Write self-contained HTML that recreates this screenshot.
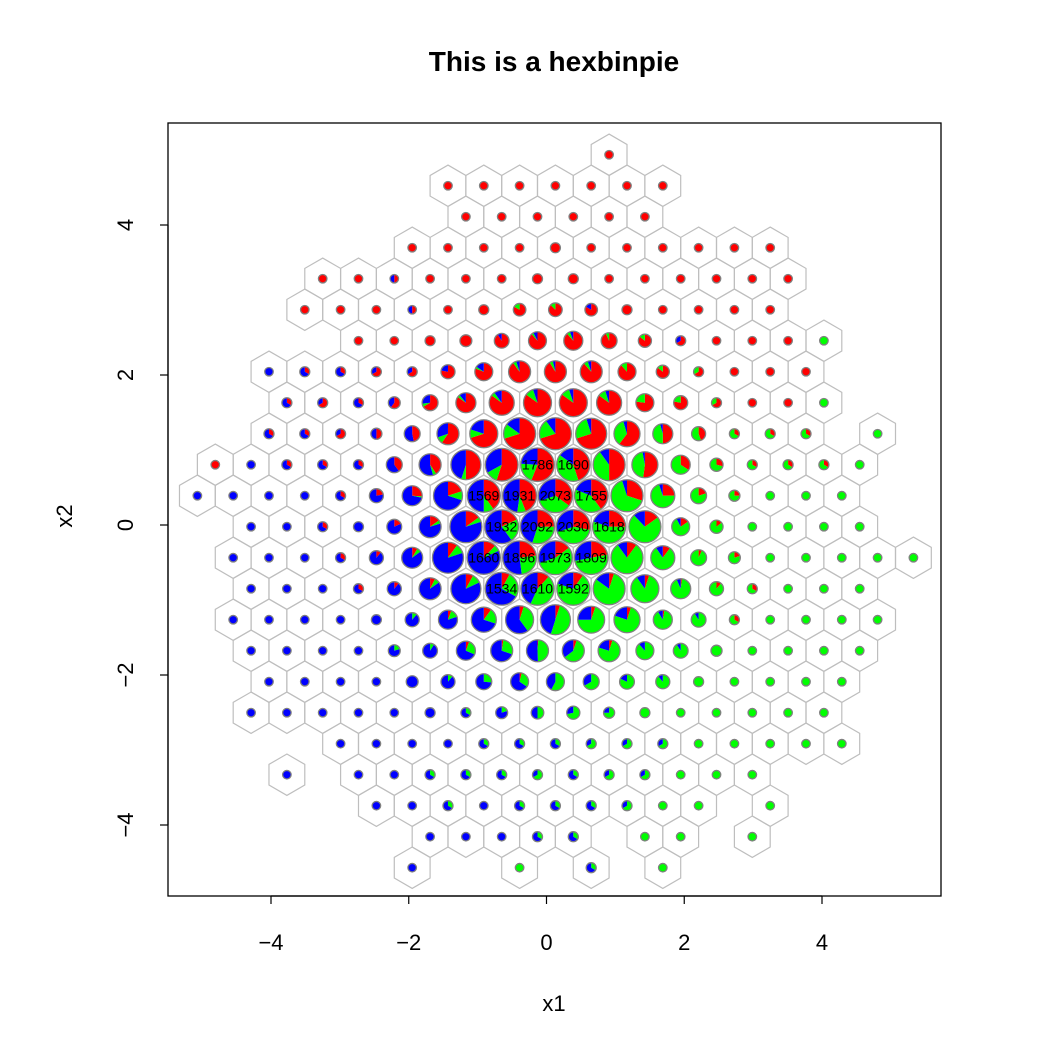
<!DOCTYPE html>
<html><head><meta charset="utf-8"><style>
html,body{margin:0;padding:0;background:#fff;}
svg text{font-family:"Liberation Sans",Arial,sans-serif;}
</style></head><body>
<svg id="chart" width="1050" height="1050" viewBox="0 0 1050 1050" xmlns="http://www.w3.org/2000/svg">
<rect x="0" y="0" width="1050" height="1050" fill="#fff"/>
<text x="554" y="71" text-anchor="middle" font-size="28" font-weight="bold">This is a hexbinpie</text>
<g id="hexes"></g>
<g id="pies"></g>
<g id="labels"></g>
<rect x="168" y="123" width="773" height="773" fill="none" stroke="#000" stroke-width="1.3"/>
<g id="xaxis"></g>
<g id="yaxis"></g>
<text x="554" y="1011" text-anchor="middle" font-size="22">x1</text>
<text x="72" y="516" text-anchor="middle" font-size="22" transform="rotate(-90 72 516)">x2</text>
</svg>
<script>
// ---- data ----
const xTicks = [-4, -2, 0, 2, 4];
const yTicks = [-4, -2, 0, 2, 4];
const rowIndex = [12,11,10,9,8,7,6,5,4,3,2,1,0,-1,-2,-3,-4,-5,-6,-7,-8,-9,-10,-11];
function range(a,b){const r=[];for(let i=a;i<=b;i++)r.push(i);return r;}
const rowCols = [
  [1], range(-3,3), range(-3,2), range(-4,6), range(-7,6), range(-7,6), range(-6,7),
  range(-8,7), range(-8,7), range(-8,7).concat([9]), range(-10,8), range(-10,8), range(-9,8),
  range(-9,10), range(-9,8), range(-9,9), range(-9,8), range(-8,8), range(-9,7), range(-6,8),
  [-8,-6,-5,-4,-3,-2,-1,0,1,2,3,4,5], [-5,-4,-3,-2,-1,0,1,2,3,4,6], [-4,-3,-2,-1,0,2,3,5], [-4,-1,1,3]
];
// counts per hex: [red, green, blue]
const rowCounts = [
  [[2,0,0]],
  [[2,0,0],[2,0,0],[2,0,0],[2,0,0],[2,0,0],[2,0,0],[2,0,0]],
  [[2,0,0],[2,0,0],[2,0,0],[2,0,0],[2,0,0],[2,0,0]],
  [[2,0,0],[2,0,0],[2,0,0],[2,0,0],[3,0,0],[2,0,0],[2,0,0],[2,0,0],[2,0,0],[2,0,0],[2,0,0]],
  [[2,0,0],[2,0,0],[1,0,1],[2,0,0],[2,0,0],[2,0,0],[3,0,0],[3,0,0],[2,0,0],[2,0,0],[2,0,0],[2,0,0],[2,0,0],[2,0,0]],
  [[2,0,0],[2,0,0],[2,0,0],[1,0,1],[2,0,0],[3,0,0],[5,1,0],[7,1,0],[5,0,1],[3,0,0],[2,0,0],[2,0,0],[2,0,0],[2,0,0]],
  [[2,0,0],[2,0,0],[3,0,0],[5,0,0],[10,0,1],[23,1,2],[31,2,2],[14,1,0],[6,1,0],[2,0,1],[2,0,0],[2,0,0],[2,0,0],[0,2,0]],
  [[0,0,2],[1,0,2],[1,0,2],[2,0,1],[2,0,1],[7,0,2],[21,1,4],[71,4,4],[72,4,3],[70,5,4],[23,3,0],[6,1,0],[2,1,0],[2,0,0],[2,0,0],[2,0,0]],
  [[1,0,2],[2,0,1],[1,0,2],[3,0,2],[10,1,4],[39,2,5],[153,9,18],[344,40,21],[344,41,20],[153,18,9],[20,6,0],[7,2,0],[2,1,0],[2,0,0],[2,0,0],[0,2,0]],
  [[1,0,2],[1,0,2],[2,0,1],[2,0,2],[7,0,8],[47,8,24],[284,40,81],[847,182,181],[847,242,121],[644,230,46],[142,83,11],[23,21,2],[4,5,0],[1,2,0],[1,2,0],[1,2,0],[0,2,0]],
  [[2,0,0],[0,0,2],[1,0,2],[1,0,2],[1,0,2],[6,0,9],[32,4,43],[350,35,315],[798,174,478],[1000,357,429],[760,676,254],[600,480,120],[123,106,7],[12,23,0],[2,5,0],[1,2,0],[1,2,0],[1,2,0],[0,2,0]],
  [[0,0,2],[0,0,2],[0,0,2],[0,0,2],[1,0,2],[2,0,7],[12,1,33],[106,53,371],[628,157,784],[850,160,921],[725,725,623],[700,720,335],[360,780,60],[34,96,7],[3,12,0],[1,3,0],[0,2,0],[0,2,0],[0,2,0]],
  [[0,0,2],[0,0,2],[1,0,2],[0,0,3],[2,0,9],[12,4,63],[180,60,960],[348,425,1159],[523,628,941],[568,853,609],[405,890,323],[180,876,144],[4,20,2],[1,6,0],[0,2,0],[0,2,0],[0,2,0],[0,2,0]],
  [[0,0,2],[0,0,2],[0,0,2],[1,0,2],[1,0,8],[5,4,51],[92,92,736],[200,100,1360],[436,474,986],[296,1085,592],[398,905,506],[120,960,120],[14,110,13],[1,14,0],[1,4,0],[0,2,0],[0,2,0],[0,2,0],[0,2,0],[0,2,0]],
  [[0,0,2],[0,0,2],[0,0,2],[1,0,2],[1,0,8],[6,6,67],[56,70,574],[123,384,1027],[193,724,693],[160,1114,318],[60,960,180],[20,345,40],[1,42,3],[1,8,0],[1,2,0],[0,2,0],[0,2,0],[0,2,0]],
  [[0,0,2],[0,0,2],[0,0,2],[0,0,2],[0,0,3],[0,1,8],[2,5,28],[18,36,126],[20,142,243],[35,350,315],[15,210,75],[12,177,47],[1,31,3],[0,10,1],[1,2,0],[0,2,0],[0,2,0],[0,2,0],[0,2,0]],
  [[0,0,2],[0,0,2],[0,0,2],[0,0,2],[0,1,4],[0,1,10],[2,9,24],[2,22,55],[1,38,40],[4,47,28],[4,59,16],[0,23,3],[0,10,1],[0,4,0],[0,2,0],[0,2,0],[0,2,0],[0,2,0]],
  [[0,0,2],[0,0,2],[0,0,2],[0,0,2],[0,0,5],[0,1,8],[0,4,11],[1,8,17],[0,15,11],[0,10,5],[0,9,2],[0,8,1],[0,3,0],[0,2,0],[0,2,0],[0,2,0],[0,2,0]],
  [[0,0,2],[0,0,2],[0,0,2],[0,0,2],[0,0,2],[0,0,3],[0,1,2],[0,1,4],[0,3,3],[0,5,2],[0,3,1],[0,3,0],[0,2,0],[0,2,0],[0,2,0],[0,2,0],[0,2,0]],
  [[0,0,2],[0,0,2],[0,0,2],[0,0,2],[0,1,2],[0,1,2],[0,1,2],[0,2,1],[0,2,1],[0,2,1],[0,2,0],[0,2,0],[0,2,0],[0,2,0],[0,2,0]],
  [[0,0,2],[0,0,2],[0,0,2],[0,1,2],[0,1,2],[0,1,2],[0,2,1],[0,1,2],[0,2,1],[0,2,1],[0,2,0],[0,2,0],[0,2,0]],
  [[0,0,2],[0,0,2],[0,1,2],[0,0,2],[0,1,2],[0,1,2],[0,1,2],[0,2,1],[0,2,0],[0,2,0],[0,2,0]],
  [[0,0,2],[0,0,2],[0,0,2],[0,1,2],[0,1,2],[0,2,0],[0,2,0],[0,2,0]],
  [[0,0,2],[0,2,0],[0,1,2],[0,2,0]]
];
const sliceColors = ['#ff0000','#00ff00','#0000ff'];
const sliceNames = ['red','green','blue'];
const labelThreshold = 1500;

// ---- scales ----
function xScale(v){ return 546.5 + v*68.875; }
function yScale(v){ return 525 - v*75; }
const hexX0 = 0.389, hexDX = 0.5198, hexY0 = -0.023, hexDY = 0.4133;
const NS = 'http://www.w3.org/2000/svg';
const gHex = document.getElementById('hexes');
const gPie = document.getElementById('pies');
const gLab = document.getElementById('labels');
let maxN = 1;
rowCounts.forEach(r => r.forEach(c => { const n = c[0]+c[1]+c[2]; if (n > maxN) maxN = n; }));
function radius(n){ return 3 + 14*Math.log(n)/Math.log(maxN); }
const hw = 17.9, hv = 20.67;

rowIndex.forEach((j, ri) => {
  const odd = Math.abs(j) % 2 === 1;
  rowCols[ri].forEach((k, ci) => {
    const cnt = rowCounts[ri][ci];
    if (!cnt) return;
    const cx = xScale(hexX0 + hexDX*(k - (odd ? 0.5 : 0)));
    const cy = yScale(hexY0 + hexDY*j);
    const hex = document.createElementNS(NS, 'polygon');
    hex.setAttribute('points', [[0,-hv],[hw,-hv/2],[hw,hv/2],[0,hv],[-hw,hv/2],[-hw,-hv/2]].map(p => (cx+p[0]).toFixed(2)+','+(cy+p[1]).toFixed(2)).join(' '));
    hex.setAttribute('fill', 'none');
    hex.setAttribute('stroke', '#bebebe');
    hex.setAttribute('stroke-width', '1.2');
    
    
    gHex.appendChild(hex);

    const n = cnt[0]+cnt[1]+cnt[2];
    const r = radius(n);
    const pg = document.createElementNS(NS, 'g');
    
    
    let a = 0;
    for (let s = 0; s < 3; s++) {
      if (cnt[s] <= 0) continue;
      const frac = cnt[s]/n;
      let el;
      if (frac >= 0.9999) {
        el = document.createElementNS(NS, 'circle');
        el.setAttribute('cx', cx); el.setAttribute('cy', cy); el.setAttribute('r', r);
      } else {
        const a2 = a + frac*2*Math.PI;
        const x1 = cx + r*Math.sin(a), y1 = cy - r*Math.cos(a);
        const x2 = cx + r*Math.sin(a2), y2 = cy - r*Math.cos(a2);
        el = document.createElementNS(NS, 'path');
        el.setAttribute('d', 'M'+cx+','+cy+' L'+x1.toFixed(2)+','+y1.toFixed(2)+' A'+r+','+r+' 0 '+(frac>0.5?1:0)+' 1 '+x2.toFixed(2)+','+y2.toFixed(2)+' Z');
        a = a2;
      }
      el.setAttribute('fill', sliceColors[s]);
      
      
      pg.appendChild(el);
    }
    const ring = document.createElementNS(NS, 'circle');
    ring.setAttribute('cx', cx); ring.setAttribute('cy', cy); ring.setAttribute('r', r);
    ring.setAttribute('fill', 'none'); ring.setAttribute('stroke', '#808080'); ring.setAttribute('stroke-width', '1.3');
    
    
    pg.appendChild(ring);
    gPie.appendChild(pg);

    if (n >= labelThreshold) {
      const t = document.createElementNS(NS, 'text');
      t.setAttribute('x', cx); t.setAttribute('y', cy + 5);
      t.setAttribute('text-anchor', 'middle'); t.setAttribute('font-size', '14');
      t.textContent = String(n);
      
      
      gLab.appendChild(t);
    }
  });
});

const gx = document.getElementById('xaxis');
xTicks.forEach(v => {
  const x = xScale(v);
  const l = document.createElementNS(NS, 'line');
  l.setAttribute('x1', x); l.setAttribute('x2', x); l.setAttribute('y1', 896); l.setAttribute('y2', 904);
  l.setAttribute('stroke', '#000'); l.setAttribute('stroke-width', '1.2');
  
  
  gx.appendChild(l);
  const t = document.createElementNS(NS, 'text');
  t.setAttribute('x', x); t.setAttribute('y', 950); t.setAttribute('text-anchor', 'middle'); t.setAttribute('font-size', '22');
  t.textContent = (v < 0 ? '\u2212' + (-v) : String(v));
  
  
  gx.appendChild(t);
});
const gy = document.getElementById('yaxis');
yTicks.forEach(v => {
  const y = yScale(v);
  const l = document.createElementNS(NS, 'line');
  l.setAttribute('x1', 160); l.setAttribute('x2', 168); l.setAttribute('y1', y); l.setAttribute('y2', y);
  l.setAttribute('stroke', '#000'); l.setAttribute('stroke-width', '1.2');
  
  
  gy.appendChild(l);
  const t = document.createElementNS(NS, 'text');
  t.setAttribute('x', 133); t.setAttribute('y', y); t.setAttribute('text-anchor', 'middle'); t.setAttribute('font-size', '22');
  t.setAttribute('transform', 'rotate(-90 133 ' + y + ')');
  t.textContent = (v < 0 ? '\u2212' + (-v) : String(v));
  
  
  gy.appendChild(t);
});
const ax = document.createElementNS(NS, 'line');
ax.setAttribute('x1', xScale(-4)); ax.setAttribute('x2', xScale(4)); ax.setAttribute('y1', 896); ax.setAttribute('y2', 896);
ax.setAttribute('stroke', '#000'); ax.setAttribute('stroke-width', '1.2');


gx.appendChild(ax);
const ay = document.createElementNS(NS, 'line');
ay.setAttribute('x1', 168); ay.setAttribute('x2', 168); ay.setAttribute('y1', yScale(-4)); ay.setAttribute('y2', yScale(4));
ay.setAttribute('stroke', '#000'); ay.setAttribute('stroke-width', '1.2');


gy.appendChild(ay);
</script>
</body></html>
